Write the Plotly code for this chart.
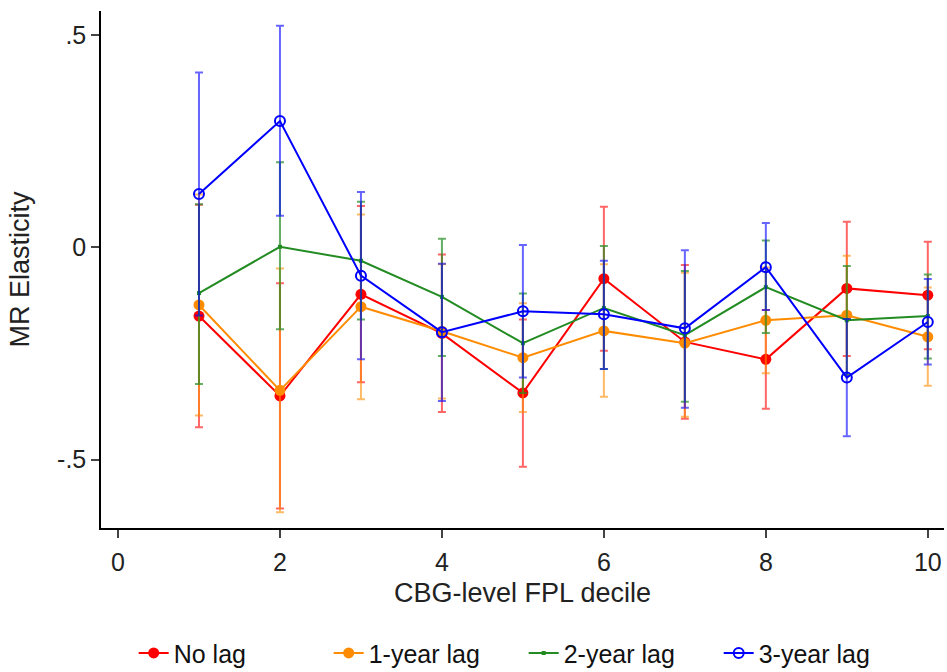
import plotly.graph_objects as go

deciles = [1, 2, 3, 4, 5, 6, 7, 8, 9, 10]

no_lag = [-0.162, -0.350, -0.111, -0.203, -0.343, -0.074, -0.223, -0.264, -0.097, -0.113]
no_lag_hi = [0.100, -0.085, 0.097, -0.017, -0.170, 0.095, -0.042, -0.148, 0.060, 0.013]
no_lag_lo = [-0.424, -0.615, -0.318, -0.388, -0.517, -0.244, -0.404, -0.380, -0.256, -0.240]

lag1 = [-0.136, -0.337, -0.140, -0.198, -0.260, -0.197, -0.226, -0.172, -0.160, -0.211]
lag1_hi = [0.124, -0.050, 0.077, -0.040, -0.132, -0.040, -0.060, -0.048, -0.020, -0.095]
lag1_lo = [-0.396, -0.624, -0.358, -0.356, -0.388, -0.352, -0.399, -0.297, -0.300, -0.326]

lag2 = [-0.108, 0.001, -0.032, -0.117, -0.226, -0.143, -0.207, -0.094, -0.172, -0.162]
lag2_hi = [0.101, 0.200, 0.107, 0.020, -0.109, 0.003, -0.056, 0.016, -0.044, -0.064]
lag2_lo = [-0.322, -0.193, -0.170, -0.256, -0.343, -0.287, -0.364, -0.202, -0.300, -0.262]

lag3 = [0.125, 0.297, -0.067, -0.200, -0.151, -0.158, -0.191, -0.047, -0.307, -0.176]
lag3_hi = [0.411, 0.521, 0.130, -0.039, 0.005, -0.032, -0.007, 0.057, -0.169, -0.075]
lag3_lo = [-0.161, 0.074, -0.264, -0.362, -0.307, -0.287, -0.378, -0.148, -0.445, -0.276]

names = ["No lag", "1-year lag", "2-year lag", "3-year lag"]
y_tick_vals = [-0.5, 0, 0.5]
y_tick_text = ["-.5", "0", ".5"]
x_tick_vals = [0, 2, 4, 6, 8, 10]

series = [
    (names[0], no_lag, no_lag_hi, no_lag_lo, "rgb(255,0,0)", "rgba(255,0,0,0.6)",
     dict(symbol="circle", size=11, color="rgb(255,0,0)")),
    (names[1], lag1, lag1_hi, lag1_lo, "rgb(255,140,0)", "rgba(255,140,0,0.6)",
     dict(symbol="circle", size=11, color="rgb(255,140,0)")),
    (names[2], lag2, lag2_hi, lag2_lo, "rgb(34,139,34)", "rgba(34,139,34,0.7)",
     dict(symbol="square", size=4, color="rgb(34,139,34)")),
    (names[3], lag3, lag3_hi, lag3_lo, "rgb(0,0,255)", "rgba(0,0,255,0.6)",
     dict(symbol="circle-open", size=10, color="rgb(0,0,255)", line=dict(width=2))),
]

fig = go.Figure()
for name, y, hi, lo, col, ecol, mk in series:
    fig.add_trace(go.Scatter(
        x=deciles, y=y, name=name, mode="lines+markers",
        line=dict(color=col, width=2),
        marker=mk,
        error_y=dict(type="data", symmetric=False,
                     array=[h - v for h, v in zip(hi, y)],
                     arrayminus=[v - l for v, l in zip(y, lo)],
                     color=ecol, thickness=2, width=4),
    ))

font = "Liberation Sans, Arial, sans-serif"
fig.update_layout(
    width=947, height=672,
    margin=dict(l=101, r=3, t=11, b=144, autoexpand=False),
    paper_bgcolor="white", plot_bgcolor="white",
    font=dict(family=font, size=25, color="#222"),
    showlegend=True,
    legend=dict(orientation="h", xref="container", x=0.553, xanchor="center",
                yref="container", y=0.028, yanchor="middle",
                font=dict(size=25, color="#111"), itemwidth=30,
                entrywidth=150, entrywidthmode="pixels"),
    xaxis=dict(range=[-0.21, 10.2], tickvals=x_tick_vals, showgrid=False, zeroline=False,
               showline=True, linecolor="black", linewidth=1.5,
               ticks="outside", ticklen=8, tickcolor="#444", tickwidth=1.5,
               tickfont=dict(size=25), ticklabelstandoff=3,
               title=dict(text="CBG-level FPL decile", font=dict(size=27), standoff=8)),
    yaxis=dict(range=[-0.661, 0.556], tickvals=y_tick_vals, ticktext=y_tick_text,
               showgrid=False, zeroline=False,
               showline=True, linecolor="black", linewidth=1.5,
               ticks="outside", ticklen=8, tickcolor="#444", tickwidth=1.5,
               tickfont=dict(size=25),
               title=dict(text="MR Elasticity", font=dict(size=27), standoff=20)),
)

fig.write_html("out.html")
